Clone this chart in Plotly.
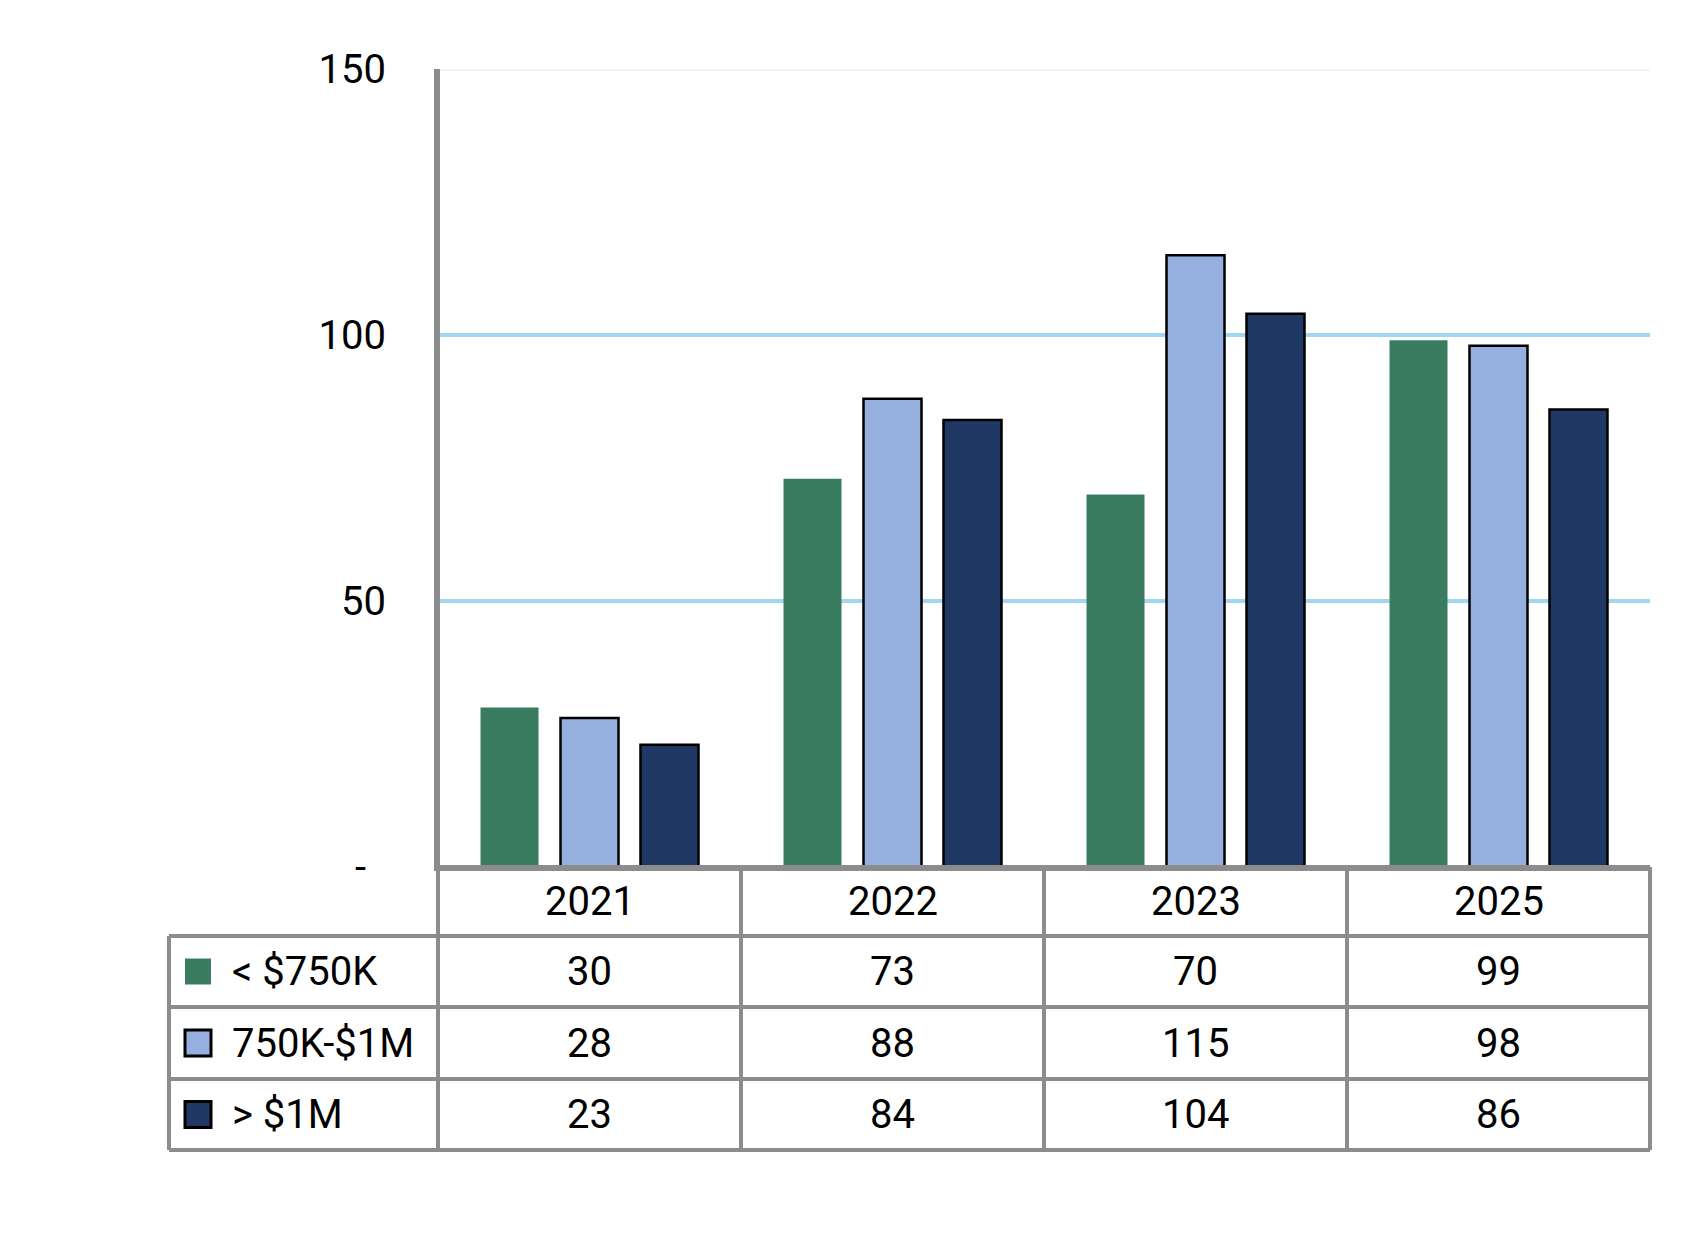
import plotly.graph_objects as go

categories = ["2021", "2022", "2023", "2025"]
series_names = ["< $750K", "750K-$1M", "> $1M"]
under_750k = [30, 73, 70, 99]
k750_to_1m = [28, 88, 115, 98]
over_1m = [23, 84, 104, 86]
tick_vals = [0, 50, 100, 150]
tick_text = ["-\u00a0\u00a0", "50", "100", "150"]

series_values = [under_750k, k750_to_1m, over_1m]
colors = ["#3A7C60", "#95B0DE", "#203864"]
outline_w = [0, 2.5, 2.5]

OFF = 8  # page body margin
W, H = 1699 - 2 * OFF, 1248 - 2 * OFF
L, T = 438 - OFF, 69 - OFF
PW, PH = 1212, 798
R = W - L - PW
B = H - T - PH
FONT = "Roboto"
FS = 40
GRAY = "#8C8C8C"


def xp(px):
    return (px - OFF - L) / PW


def yp(py):
    return (T + PH - (py - OFF)) / PH


fig = go.Figure()
for name, vals, c, lw in zip(series_names, series_values, colors, outline_w):
    fig.add_trace(go.Bar(
        x=categories, y=vals, name=name,
        marker=dict(color=c, line=dict(color="#000000", width=lw)),
        showlegend=False,
    ))

shapes = []
for v in tick_vals[1:]:
    shapes.append(dict(type="line", xref="paper", yref="y", x0=0, x1=1, y0=v, y1=v,
                       line=dict(color="#EEF5FC" if v == tick_vals[-1] else "#A1D7F0", width=4),
                       layer="below"))

col_edges = [438 + PW * i / len(categories) for i in range(len(categories) + 1)]
row_edges = [867, 936, 1007, 1079, 1150]
left_px = 169

for i, ry in enumerate(row_edges):
    x0 = xp(col_edges[0]) if i == 0 else xp(left_px)
    shapes.append(dict(type="line", xref="paper", yref="paper", x0=x0, x1=1,
                       y0=yp(ry), y1=yp(ry), line=dict(color=GRAY, width=4)))
for cx in col_edges:
    shapes.append(dict(type="line", xref="paper", yref="paper", x0=xp(cx), x1=xp(cx),
                       y0=yp(row_edges[0]) if cx != col_edges[0] else 1, y1=yp(row_edges[-1]),
                       line=dict(color=GRAY, width=4)))
shapes.append(dict(type="line", xref="paper", yref="paper", x0=xp(left_px), x1=xp(left_px),
                   y0=yp(row_edges[1]), y1=yp(row_edges[-1]), line=dict(color=GRAY, width=4)))

annotations = []
for ci, cat in enumerate(categories):
    annotations.append(dict(x=ci, xref="x", y=yp((row_edges[0] + row_edges[1]) / 2), yref="paper",
                            text=cat, showarrow=False, font=dict(family=FONT, size=FS, color="#000"),
                            xanchor="center", yanchor="middle"))
for r, (name, vals, c, lw) in enumerate(zip(series_names, series_values, colors, outline_w)):
    yc = (row_edges[r + 1] + row_edges[r + 2]) / 2
    for ci, v in enumerate(vals):
        annotations.append(dict(x=ci, xref="x", y=yp(yc), yref="paper", text=str(v), showarrow=False,
                                font=dict(family=FONT, size=FS, color="#000"),
                                xanchor="center", yanchor="middle"))
    annotations.append(dict(x=xp(230), xref="paper", y=yp(yc), yref="paper", text=name, showarrow=False,
                            font=dict(family=FONT, size=FS, color="#000"),
                            xanchor="left", yanchor="middle"))
    shapes.append(dict(type="rect", xref="paper", yref="paper", x0=xp(185), x1=xp(211),
                       y0=yp(yc - 13), y1=yp(yc + 13), fillcolor=c,
                       line=dict(color="#000000", width=3 if lw else 0)))

fig.update_layout(
    width=W, height=H,
    margin=dict(l=L, r=R, t=T, b=B, autoexpand=False),
    paper_bgcolor="white", plot_bgcolor="white",
    barmode="group", bargap=0.208, bargroupgap=0.275,
    font=dict(family=FONT, size=FS, color="#000"),
    shapes=shapes, annotations=annotations,
    xaxis=dict(type="category", range=[-0.5, len(categories) - 0.5], showticklabels=False,
               showgrid=False, showline=True, linecolor=GRAY, linewidth=4, ticks="", zeroline=False),
    yaxis=dict(range=[0, 150], tickvals=tick_vals, ticktext=tick_text, showgrid=False,
               showline=True, linecolor=GRAY, linewidth=4, ticks="", zeroline=False,
               ticklabelstandoff=40, tickfont=dict(family=FONT, size=FS, color="#000")),
)

fig.write_html("out.html")
